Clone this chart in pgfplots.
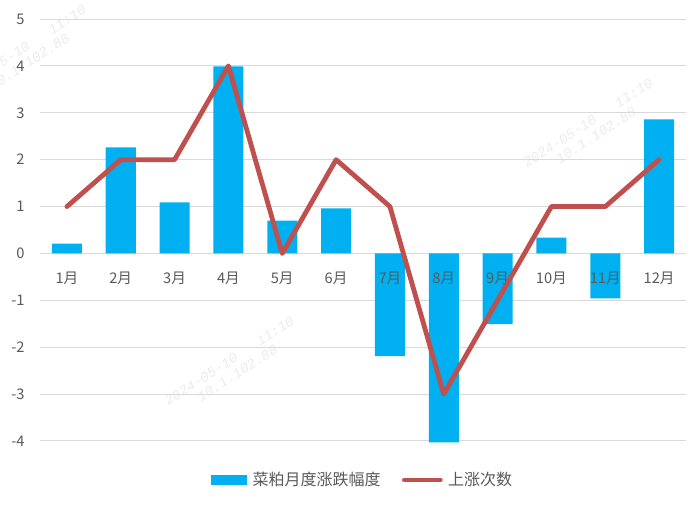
\documentclass[border=0pt]{standalone}
\usepackage{fontspec}
\setmainfont{Noto Sans CJK SC}
\newfontfamily\wmfont{Liberation Mono}
\usepackage{pgfplots}
\pgfplotsset{compat=1.18}

\definecolor{barblue}{HTML}{00B0F0}
\definecolor{linered}{HTML}{C0504D}
\definecolor{gridgray}{HTML}{D9D9D9}
\definecolor{txtgray}{HTML}{595959}
\definecolor{wmgray}{HTML}{EBEBEB}

\tikzset{redline/.style={draw=linered, line width=3.6pt, line join=round, line cap=round}}
\pgfplotsset{
    frame/.style={
        at={(0,0)}, anchor=south west,
        scale only axis,
        width=484.5pt, height=316.5pt,
        xmin=-0.5, xmax=11.5,
        ymin=-4, ymax=5,
        axis x line=middle,
        axis y line=left,
        x axis line style={draw=none},
        y axis line style={draw=none},
        xtick={0,...,11},
        ytick={-4,...,5},
        major tick length=0pt,
        tick label style={font=\fontsize{11}{13}\selectfont, text=txtgray},
        /pgf/number format/assume math mode=true,
        xticklabel style={anchor=center, yshift=-18.75pt},
        yticklabel style={anchor=east, xshift=-8pt},
        clip=false,
    },
}

\begin{document}
\begin{tikzpicture}
\begin{scope}[every node/.style={text=wmgray, font=\wmfont\itshape\fontsize{10.5}{11}\selectfont, rotate=33, align=center}]
\node at (145pt,55.5pt) {2024-05-10\ \ \ 11:10\\10.1.102.88};
\node at (414pt,234pt) {2024-05-10\ \ \ 11:10\\10.1.102.88};
\node at (-11pt,289pt) {2024-05-10\ \ \ 11:10\\10.1.102.88};
\end{scope}
\begin{axis}[
    frame,
    xticklabels={},
    ymajorgrids,
    grid style={gridgray, line width=0.75pt},
    legend columns=2,
    legend style={at={(0.5,-0.0924)}, anchor=center, draw=none, fill=none,
        font=\fontsize{12}{14}\selectfont, text=txtgray,
        /tikz/every odd column/.append style={column sep=2pt},
        /tikz/every even column/.append style={column sep=14pt}},
]
\addplot[ybar, bar width=22.5pt, bar shift=0pt, fill=barblue, draw=none,
    legend image code/.code={\fill[barblue] (0pt,-3.6pt) rectangle (27pt,3.6pt);}]
    coordinates {
    (0,0.21) (1,2.26) (2,1.09) (3,3.99) (4,0.70) (5,0.96)
    (6,-2.19) (7,-4.03) (8,-1.51) (9,0.34) (10,-0.96) (11,2.86)
    };
\addlegendentry{菜粕月度涨跌幅度}
\addlegendimage{redline,
    legend image code/.code={\draw[redline] (1.5pt,0pt) -- (28.5pt,0pt);}}
\addlegendentry{上涨次数}
\end{axis}
% second axis on the same frame: month labels over the bars, line over the labels
\begin{axis}[
    frame,
    yticklabels={},
    xticklabels={1月,2月,3月,4月,5月,6月,7月,8月,9月,10月,11月,12月},
]
\addplot[redline, mark=none] coordinates {
    (0,1) (1,2) (2,2) (3,4) (4,0) (5,2)
    (6,1) (7,-3) (8,-1) (9,1) (10,1) (11,2)
    };
\end{axis}
\pgfresetboundingbox
\useasboundingbox (-30pt,-48pt) rectangle (494.25pt,330.75pt);
\end{tikzpicture}
\end{document}
